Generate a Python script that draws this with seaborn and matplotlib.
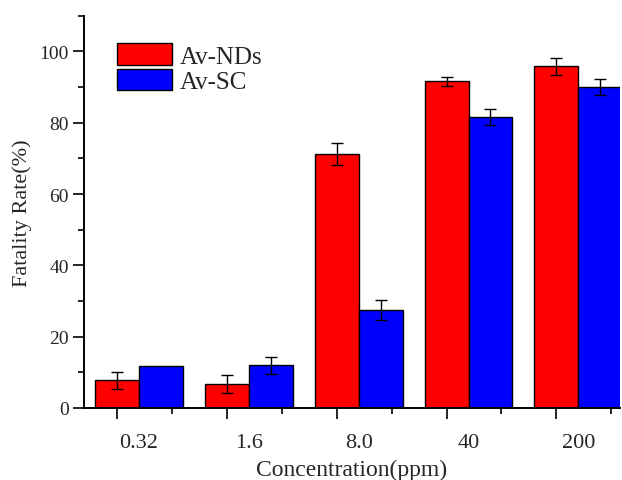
import matplotlib
matplotlib.use("Agg")
import matplotlib.pyplot as plt
import matplotlib.transforms as mtransforms
from matplotlib.ticker import MultipleLocator
import numpy as np
import pandas as pd
import seaborn as sns

concentrations = ["0.32", "1.6", "8.0", "40", "200"]
series_names = ["Av-NDs", "Av-SC"]
nds_values = [7.7, 6.7, 71.2, 91.6, 95.8]
nds_errors = [2.3, 2.6, 3.0, 1.3, 2.3]
sc_values = [11.7, 11.9, 27.5, 81.7, 90.1]
sc_errors = [0.0, 2.5, 2.9, 2.2, 2.2]

df = pd.DataFrame({
    "Concentration": concentrations * 2,
    "Series": [series_names[0]] * 5 + [series_names[1]] * 5,
    "Value": nds_values + sc_values,
    "Err": nds_errors + sc_errors,
})

sns.set_style("ticks")
plt.rcParams["font.family"] = ["Liberation Serif", "DejaVu Serif"]

fig = plt.figure(figsize=(6.22, 4.81), dpi=100)
ax = fig.add_axes([0.135, 0.150, 0.862, 0.815])

sns.barplot(data=df, x="Concentration", y="Value", hue="Series",
            order=concentrations, hue_order=series_names,
            palette=["#ff0000", "#0000ff"], edgecolor="black", linewidth=1,
            errorbar=None, width=0.8, saturation=1, ax=ax)

# error bars at bar centres computed by seaborn
for cont, name in zip(ax.containers, series_names):
    sub = df[df["Series"] == name].set_index("Concentration").loc[concentrations]
    xs = [p.get_x() + p.get_width() / 2 for p in cont.patches]
    ys = [p.get_height() for p in cont.patches]
    errs = sub["Err"].to_numpy()
    mask = errs > 0
    ax.errorbar(np.array(xs)[mask], np.array(ys)[mask], yerr=errs[mask],
                fmt="none", ecolor="black", elinewidth=1, capsize=4,
                capthick=1, zorder=5)

ax.set_ylim(0, 110)
ax.set_xlim(-0.5, 4.38)
ax.yaxis.set_major_locator(MultipleLocator(20))
ax.yaxis.set_minor_locator(MultipleLocator(10))

n = len(concentrations)
ax.set_xticks([i - 0.2 for i in range(n)])
ax.set_xticklabels(concentrations)
ax.set_xticks([i + 0.3 for i in range(n)], minor=True)

ax.tick_params(axis="both", which="major", direction="out", length=8,
               width=1.2, color="black")
ax.tick_params(axis="x", which="major", pad=10, labelsize=16)
ax.tick_params(axis="y", which="major", pad=3, labelsize=14)
ax.tick_params(axis="both", which="minor", direction="out", length=4,
               width=1.2, color="black")

offset = mtransforms.ScaledTranslation(0.22, 0, fig.dpi_scale_trans)
for lab in ax.get_xticklabels():
    lab.set_transform(lab.get_transform() + offset)

for side in ["top", "right"]:
    ax.spines[side].set_visible(False)
for side in ["left", "bottom"]:
    ax.spines[side].set_linewidth(1.4)
    ax.spines[side].set_color("black")

ax.set_xlabel("Concentration(ppm)", fontsize=17, labelpad=5)
ax.set_ylabel("Fatality Rate(%)", fontsize=16, labelpad=5)

if ax.get_legend() is not None:
    ax.get_legend().remove()
handles, labels = ax.get_legend_handles_labels()
ax.legend(handles[:2], labels[:2], loc="upper left",
          bbox_to_anchor=(0.062, 0.93), frameon=False, fontsize=18,
          handlelength=2.2, handleheight=0.95, labelspacing=0.05,
          handletextpad=0.3, borderpad=0, borderaxespad=0)

fig.savefig("out.png", dpi=100)
